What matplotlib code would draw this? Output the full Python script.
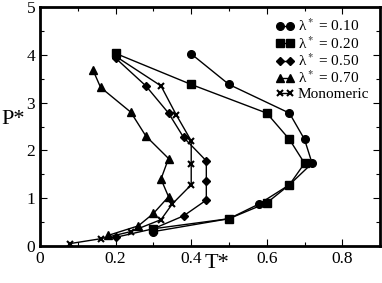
import numpy as np
import matplotlib.pyplot as plt
from matplotlib.ticker import MultipleLocator

##-----     DATA     -----
labels = ['λ$^*$ = 0.10', 'λ$^*$ = 0.20', 'λ$^*$ = 0.50',
          'λ$^*$ = 0.70', 'Monomeric']
markers = ['o', 's', 'D', '^', 'x']

T_010 = [0.40, 0.50, 0.66, 0.70, 0.72, 0.66, 0.58, 0.50, 0.30]
P_010 = [4.02, 3.38, 2.78, 2.23, 1.73, 1.28, 0.88, 0.57, 0.30]

T_020 = [0.20, 0.40, 0.60, 0.66, 0.70, 0.66, 0.60, 0.50, 0.30]
P_020 = [4.03, 3.38, 2.78, 2.23, 1.73, 1.28, 0.90, 0.57, 0.36]

T_050 = [0.20, 0.28, 0.34, 0.38, 0.44, 0.44, 0.44, 0.38, 0.30, 0.20]
P_050 = [3.93, 3.35, 2.78, 2.27, 1.78, 1.35, 0.96, 0.63, 0.36, 0.18]

T_070 = [0.14, 0.16, 0.24, 0.28, 0.34, 0.32, 0.34, 0.30, 0.26, 0.18]
P_070 = [3.68, 3.32, 2.80, 2.30, 1.83, 1.40, 1.03, 0.68, 0.42, 0.22]

T_mono = [0.20, 0.32, 0.36, 0.40, 0.40, 0.40, 0.35, 0.32, 0.24, 0.16, 0.08]
P_mono = [3.97, 3.35, 2.75, 2.20, 1.72, 1.28, 0.88, 0.55, 0.30, 0.15, 0.05]

series = [(T_010, P_010), (T_020, P_020), (T_050, P_050), (T_070, P_070), (T_mono, P_mono)]

##-----     PLOT     -----
plt.rcParams['font.family'] = 'Liberation Serif'
plt.rcParams['mathtext.fontset'] = 'stix'

fig = plt.figure(figsize=(3.82, 2.83), dpi=100)
ax = fig.add_axes([0.105, 0.131, 0.89, 0.844])

sizes = {'o': 5.5, 's': 5.2, 'D': 4.2, '^': 5.8, 'x': 4.5}
for (T, P), lab, m in zip(series, labels, markers):
    ax.plot(T, P, marker=m, color='black', lw=1.0, ms=sizes[m],
            mew=1.5 if m == 'x' else 1.0, label=lab)

ax.set_xlim(0, 0.9)
ax.set_ylim(0, 5)
ax.xaxis.set_minor_locator(MultipleLocator(0.1))
ax.yaxis.set_major_locator(MultipleLocator(1))
ax.yaxis.set_minor_locator(MultipleLocator(0.5))
ax.set_xticks([0, 0.2, 0.4, 0.6, 0.8])
ax.set_xticklabels(['0', '0.2', '0.4', '0.6', '0.8'])
ax.tick_params(which='both', direction='in', top=True, right=True, labelsize=12.5, width=0.8)
ax.tick_params(which='major', length=5)
ax.tick_params(which='minor', length=3)
for s in ax.spines.values():
    s.set_linewidth(2)

ax.set_xlabel('T*', fontsize=16)
ax.xaxis.set_label_coords(0.52, -0.035)
ax.set_ylabel('P*', fontsize=16, rotation=0, va='center')
ax.yaxis.set_label_coords(-0.078, 0.53)

ax.legend(loc='upper right', frameon=False, fontsize=11, handlelength=1.3, numpoints=2,
          handletextpad=0.2, labelspacing=0.05, borderaxespad=0.3)

fig.savefig('out.png', dpi=100)
